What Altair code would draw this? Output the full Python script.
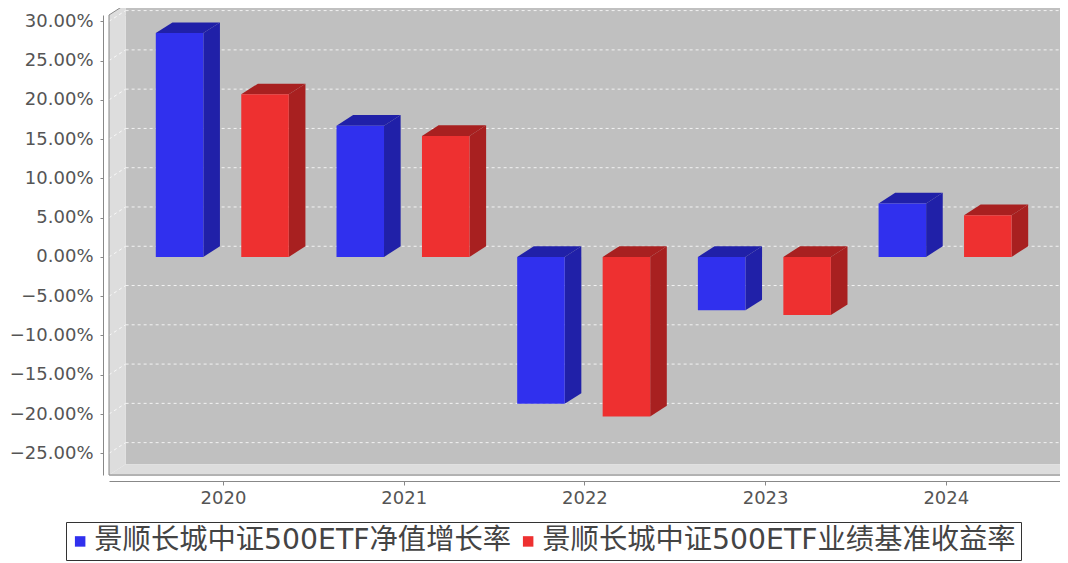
import json
import altair as alt
import pandas as pd

# ---------------- data ----------------
years = ["2020", "2021", "2022", "2023", "2024"]
series_names = ["景顺长城中证500ETF净值增长率", "景顺长城中证500ETF业绩基准收益率"]
nav_growth = [28.5, 16.7, -18.7, -6.8, 6.8]          # %
benchmark_return = [20.7, 15.4, -20.3, -7.4, 5.3]    # %
y_ticks = [-25, -20, -15, -10, -5, 0, 5, 10, 15, 20, 25, 30]

# ---------------- styles / geometry ----------------
front_colors = ["#3030EE", "#EE3030"]
dark_colors = ["#2020A8", "#A82020"]
X_DOMAIN = [-0.631, 4.632]      # category-index units
Y_DOMAIN = [-27.76, 30.80]      # percent units
DX = 0.092                       # 3D depth offset (category units)
DY = 1.36                        # 3D depth offset (percent units)
BAR_SPANS = [(-0.372, -0.109), (0.101, 0.364)]
FONT = "DejaVu Sans, Noto Sans CJK SC"

xs = alt.Scale(domain=X_DOMAIN, nice=False, zero=False)
ys = alt.Scale(domain=Y_DOMAIN, nice=False, zero=False)

x_axis = alt.Axis(
    values=list(range(len(years))),
    labelExpr=json.dumps(years) + "[datum.value]",
    grid=False, offset=6, tickSize=4, domainColor="#888888", tickColor="#888888",
    labelFontSize=18, labelColor="#555555", labelFont=FONT, labelPadding=4,
    labelFlush=False, labelOverlap=False,
)
y_axis = alt.Axis(
    values=y_ticks,
    labelExpr="format(datum.value, '.2f') + '%'",
    grid=False, offset=6, tickSize=3, domainColor="#888888", tickColor="#888888",
    labelFontSize=18, labelColor="#555555", labelFont=FONT, labelPadding=7,
    labelOverlap=False,
)


def X(f):
    return alt.X(f, type="quantitative", scale=xs, axis=x_axis, title=None)


def Y(f):
    return alt.Y(f, type="quantitative", scale=ys, axis=y_axis, title=None)


xl, xr = X_DOMAIN
yb, yt = Y_DOMAIN

# ---------------- environment (walls, floor, grid) ----------------
back_df = pd.DataFrame([{"x": xl + DX, "x2": xr + DX, "y": yb + DY, "y2": yt + DY}])
back = alt.Chart(back_df).mark_rect(color="#C0C0C0").encode(
    x=X("x"), x2="x2", y=Y("y"), y2="y2")

grid_df = pd.DataFrame([{"t": t, "xa": xl + DX, "xb": xr + DX, "tb": t + DY,
                         "sx": xl, "sx2": xl + DX} for t in y_ticks])
grid_back = alt.Chart(grid_df).mark_rule(
    color="white", opacity=0.8, strokeDash=[3, 3], strokeWidth=1).encode(
    x=X("xa"), x2="xb", y=Y("tb"))

walls_rows = [
    {"part": "left", "x": xl, "lo": yb, "hi": yt},
    {"part": "left", "x": xl + DX, "lo": yb + DY, "hi": yt + DY},
    {"part": "floor", "x": xl, "lo": yb, "hi": yb},
    {"part": "floor", "x": xl + DX, "lo": yb, "hi": yb + DY},
    {"part": "floor", "x": xr, "lo": yb, "hi": yb + DY},
    {"part": "floor", "x": xr + DX, "lo": yb + DY, "hi": yb + DY},
]
walls = alt.Chart(pd.DataFrame(walls_rows)).mark_area(
    color="#DDDDDD", orient="vertical", strokeWidth=0).encode(
    x=X("x"), y=Y("lo"), y2="hi", detail="part:N")

grid_stub = alt.Chart(grid_df).mark_rule(
    color="white", opacity=0.8, strokeDash=[3, 3], strokeWidth=1).encode(
    x=X("sx"), x2="sx2", y=Y("t"), y2="tb")

outline_pts = [
    (xr + DX, yb + DY), (xr, yb), (xl, yb), (xl, yt), (xl + DX, yt + DY), (xr + DX, yt + DY)
]
outline_df = pd.DataFrame([{"o": i, "x": p[0], "y": p[1]} for i, p in enumerate(outline_pts)])
outline = alt.Chart(outline_df).mark_line(color="#888888", strokeWidth=1).encode(
    x=X("x"), y=Y("y"), order="o:Q")

# ---------------- bars ----------------
front_rows, face_rows = [], []
for s, (name, vals) in enumerate(zip(series_names, [nav_growth, benchmark_return])):
    for i, v in enumerate(vals):
        x0, x1 = i + BAR_SPANS[s][0], i + BAR_SPANS[s][1]
        top, bot = max(v, 0.0), min(v, 0.0)
        front_rows.append({"series": name, "year": years[i], "x0": x0, "x1": x1,
                           "y0": 0.0, "y1": v})
        fid = f"{s}-{i}"
        for px, lo, hi in [(x0, top, top), (x0 + DX, top, top + DY),
                           (x1, top, top + DY), (x1 + DX, top + DY, top + DY)]:
            face_rows.append({"face": fid + "-top", "series": name, "x": px, "lo": lo, "hi": hi})
        for px, lo, hi in [(x1, bot, top), (x1 + DX, bot + DY, top + DY)]:
            face_rows.append({"face": fid + "-side", "series": name, "x": px, "lo": lo, "hi": hi})

faces = alt.Chart(pd.DataFrame(face_rows)).mark_area(
    orient="vertical", strokeWidth=0).encode(
    x=X("x"), y=Y("lo"), y2="hi", detail="face:N",
    color=alt.Color("series:N", scale=alt.Scale(domain=series_names, range=dark_colors),
                    legend=None))

fronts = alt.Chart(pd.DataFrame(front_rows)).mark_rect().encode(
    x=X("x0"), x2="x1", y=Y("y0"), y2="y1",
    color=alt.Color(
        "series:N",
        scale=alt.Scale(domain=series_names, range=front_colors),
        legend=alt.Legend(
            title=None, orient="none", legendX=-43, legendY=507,
            direction="horizontal", symbolType="square", symbolSize=110,
            symbolStrokeWidth=0, symbolOffset=-5, labelFontSize=28.3, labelFont=FONT,
            labelColor="#444444", labelLimit=0, strokeColor="#333333",
            fillColor="white", padding=5, columnPadding=7, labelOffset=0,
        ),
    ),
)

chart = alt.layer(back, grid_back, walls, grid_stub, outline, faces, fronts).resolve_scale(
    color="independent"
).properties(
    width=951, height=460,
    padding={"left": 101, "top": 7, "right": 0, "bottom": 86},
    autosize=alt.AutoSizeParams(type="none"),
).configure_view(stroke=None).configure(background="white")

chart.save("out.html", embed_options={"renderer": "svg", "actions": False})
